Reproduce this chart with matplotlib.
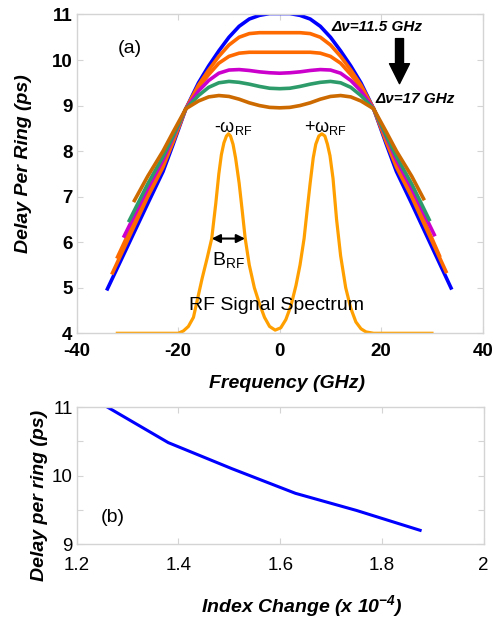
import matplotlib
matplotlib.use("Agg")
import matplotlib.pyplot as plt

plt.rcParams["font.family"] = ["Liberation Sans", "DejaVu Sans"]
plt.rcParams["mathtext.default"] = "regular"
plt.rcParams["axes.unicode_minus"] = False

# ---- panel (a): delay per ring vs frequency ----
# shared interior frequency points (GHz)
freq_core = [-26, -23, -21, -18.5, -16, -14, -12, -10, -8, -6, -4, -2, 0,
             2, 4, 6, 8, 10, 12, 14, 16, 18.5, 21, 23, 26]

# left/right end points of each curve (freq, delay)
ends_blue = [(-34.1, 4.94), (33.9, 4.96)]
ends_orange1 = [(-33.1, 5.29), (32.9, 5.32)]
ends_orange2 = [(-32.1, 5.64), (31.6, 5.67)]
ends_magenta = [(-30.8, 6.10), (30.6, 6.13)]
ends_green = [(-29.8, 6.44), (29.6, 6.46)]
ends_brown = [(-28.8, 6.88), (28.5, 6.92)]

delay_blue = [6.85, 7.55, 8.15, 8.93, 9.50, 9.87, 10.20, 10.50, 10.74, 10.90, 10.98, 11.02, 11.02,
              11.02, 10.98, 10.90, 10.74, 10.50, 10.20, 9.87, 9.50, 8.93, 8.15, 7.55, 6.85]
delay_orange1 = [7.00, 7.65, 8.20, 8.93, 9.45, 9.78, 10.08, 10.33, 10.50, 10.58, 10.60, 10.60, 10.60,
                 10.60, 10.60, 10.58, 10.50, 10.33, 10.08, 9.78, 9.45, 8.93, 8.20, 7.65, 7.00]
delay_orange2 = [7.10, 7.72, 8.25, 8.93, 9.40, 9.68, 9.93, 10.08, 10.15, 10.17, 10.17, 10.17, 10.17,
                 10.17, 10.17, 10.17, 10.15, 10.08, 9.93, 9.68, 9.40, 8.93, 8.25, 7.72, 7.10]
delay_magenta = [7.18, 7.80, 8.30, 8.93, 9.32, 9.55, 9.71, 9.78, 9.79, 9.77, 9.74, 9.72, 9.71,
                 9.72, 9.74, 9.77, 9.79, 9.78, 9.71, 9.55, 9.32, 8.93, 8.30, 7.80, 7.18]
delay_green = [7.28, 7.88, 8.33, 8.93, 9.22, 9.40, 9.50, 9.53, 9.51, 9.47, 9.42, 9.38, 9.37,
               9.38, 9.42, 9.47, 9.51, 9.53, 9.50, 9.40, 9.22, 8.93, 8.33, 7.88, 7.28]
delay_brown = [7.45, 8.00, 8.42, 8.93, 9.10, 9.19, 9.22, 9.20, 9.14, 9.06, 9.00, 8.96, 8.95,
               8.96, 9.00, 9.06, 9.14, 9.20, 9.22, 9.19, 9.10, 8.93, 8.42, 8.00, 7.45]

# RF signal spectrum (arbitrary units on the same axis)
rf_freq = [-32, -20, -19, -18, -17, -16.3, -15.3, -14.3, -13.4, -12.6, -12, -11.5, -11, -10.5, -10.1,
           -9.7, -9.2, -8.7, -8, -7.4, -6.8, -6, -5, -4, -3, -2, -0.9, 0.2, 1.2, 2.2, 3.2, 4,
           4.8, 5.4, 6, 6.6, 7.1, 7.7, 8.3, 8.9, 9.4, 9.9, 10.5, 11.2, 12, 13, 14, 15, 16, 17, 18.5, 30]
rf_level = [4.0, 4.0, 4.05, 4.15, 4.35, 4.7, 5.2, 5.65, 6.08, 6.85, 7.5, 7.92, 8.18, 8.33, 8.38,
            8.33, 8.15, 7.85, 7.3, 6.7, 6.08, 5.5, 5.0, 4.65, 4.35, 4.15, 4.07, 4.12, 4.3, 4.6, 5.05, 5.5,
            6.08, 6.7, 7.3, 7.85, 8.15, 8.33, 8.38, 8.33, 8.15, 7.9, 7.4, 6.5, 5.7, 5.0, 4.55, 4.25, 4.1, 4.03, 4.0, 4.0]

# ---- panel (b): delay per ring vs index change ----
index_change = [1.26, 1.38, 1.505, 1.63, 1.75, 1.875]
delay_ring = [11.0, 10.48, 10.1, 9.74, 9.49, 9.2]

curves = [
    (ends_blue, delay_blue, "#0000ff"),
    (ends_orange1, delay_orange1, "#ff6a00"),
    (ends_orange2, delay_orange2, "#ff6a00"),
    (ends_magenta, delay_magenta, "#cc00cc"),
    (ends_green, delay_green, "#2e9c6a"),
    (ends_brown, delay_brown, "#cc6a00"),
]

frame = "#d4d4d4"

fig = plt.figure(figsize=(4.94, 6.18), dpi=100)
ax1 = fig.add_axes([0.1553, 0.4607, 0.8219, 0.5159])
ax2 = fig.add_axes([0.1553, 0.1197, 0.8239, 0.2217])

for ends, vals, col in curves:
    xs = [ends[0][0]] + freq_core + [ends[1][0]]
    ys = [ends[0][1]] + vals + [ends[1][1]]
    ax1.plot(xs, ys, color=col, lw=2.6, solid_capstyle="butt")

ax1.plot(rf_freq, rf_level, color="#ffa000", lw=2.3)

ax1.set_xlim(-40, 40)
ax1.set_ylim(4, 11)
ax1.set_xticks([-40, -20, 0, 20, 40])
ax1.set_yticks(range(4, 12))
for lab in ax1.get_xticklabels() + ax1.get_yticklabels():
    lab.set_fontweight("bold")
ax1.tick_params(axis="both", direction="in", length=4, color=frame,
                top=True, right=True, labelsize=13.5)
ax1.tick_params(axis="x", pad=7)
ax1.tick_params(axis="y", pad=3)

ax1.set_xlabel("Frequency (GHz)", fontsize=14, fontweight="bold", style="italic")
ax1.xaxis.set_label_coords(0.517, -0.132)
ax1.set_ylabel("Delay Per Ring (ps)", fontsize=14, fontweight="bold", style="italic")
ax1.yaxis.set_label_coords(-0.111, 0.531)

ax1.text(-29.5, 10.25, "(a)", ha="center", va="center", fontsize=14)
ax1.text(10.25, 10.72, "Δν=11.5 GHz", ha="left", va="center",
         fontsize=11, fontweight="bold", style="italic")
ax1.text(18.8, 9.15, "Δν=17 GHz", ha="left", va="center",
         fontsize=11, fontweight="bold", style="italic")
ax1.annotate("", xy=(23.6, 9.48), xytext=(23.6, 10.47),
             arrowprops=dict(arrowstyle="simple,head_length=1.0,head_width=1.0,tail_width=0.4",
                             color="black", mutation_scale=14.4, shrinkA=0, shrinkB=0))
ax1.text(-9.2, 8.5, "-ω$_{RF}$", ha="center", va="center", fontsize=13)
ax1.text(9.0, 8.5, "+ω$_{RF}$", ha="center", va="center", fontsize=13)
ax1.annotate("", xy=(-13.4, 6.08), xytext=(-6.84, 6.08),
             arrowprops=dict(arrowstyle="<|-|>,head_length=0.5,head_width=0.25",
                             color="black", lw=1.5, mutation_scale=10, shrinkA=0, shrinkB=0))
ax1.text(-10.2, 5.62, "B$_{RF}$", ha="center", va="center", fontsize=14)
ax1.text(-0.6, 4.62, "RF Signal Spectrum", ha="center", va="center", fontsize=14)

ax2.plot(index_change, delay_ring, color="#0000ff", lw=2.2)
ax2.set_xlim(1.2, 2)
ax2.set_ylim(9, 11)
ax2.set_xticks([1.2, 1.4, 1.6, 1.8, 2])
ax2.set_xticklabels(["1.2", "1.4", "1.6", "1.8", "2"])
ax2.set_yticks([9, 9.5, 10, 10.5, 11])
ax2.set_yticklabels(["9", "", "10", "", "11"])
ax2.tick_params(axis="both", direction="in", length=4, color=frame,
                top=True, right=True, labelsize=13.5)
ax2.tick_params(axis="x", pad=9)
ax2.tick_params(axis="y", pad=3)
ax2.set_xlabel("Index Change (x 10$^{-4}$)", fontsize=14, fontweight="bold", style="italic")
ax2.xaxis.set_label_coords(0.553, -0.358)
ax2.set_ylabel("Delay per ring (ps)", fontsize=14, fontweight="bold", style="italic")
ax2.yaxis.set_label_coords(-0.071, 0.358)
ax2.text(1.27, 9.38, "(b)", ha="center", va="center", fontsize=14)

for ax in (ax1, ax2):
    for sp in ax.spines.values():
        sp.set_color(frame)
        sp.set_linewidth(1.0)

fig.savefig("out.png", dpi=100)
